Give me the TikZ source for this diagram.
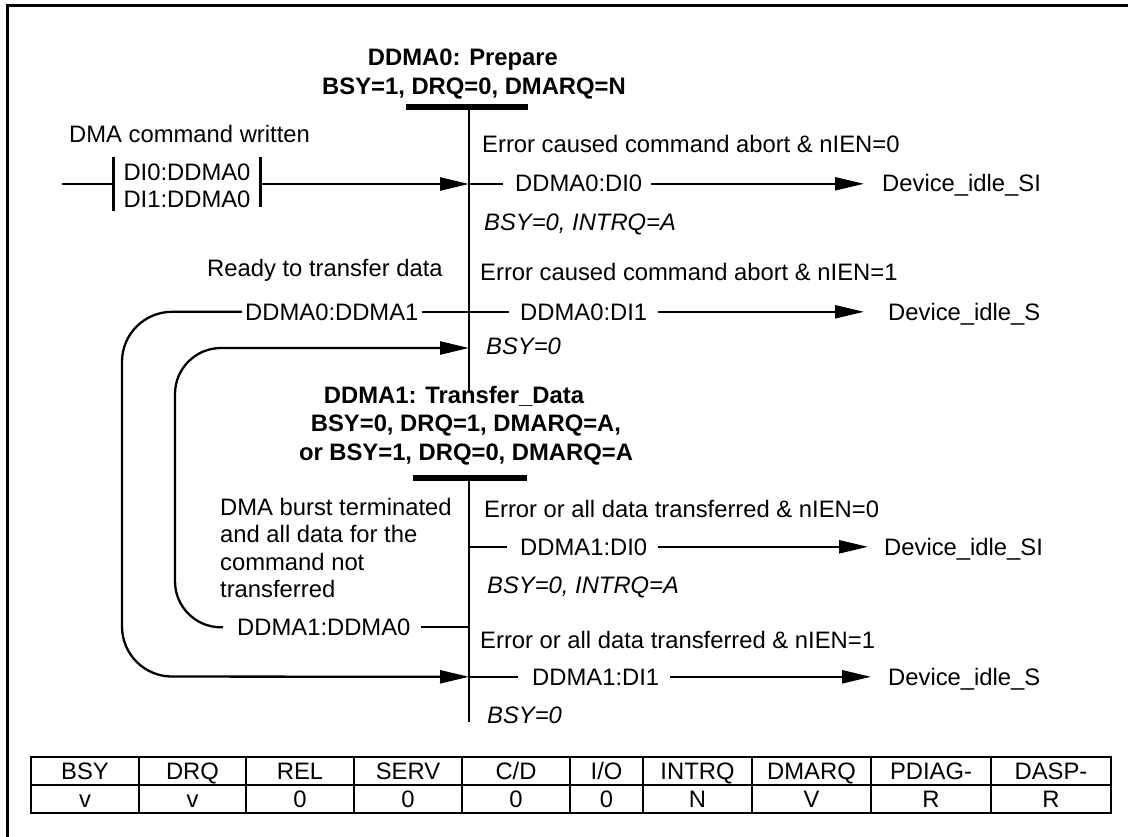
\documentclass[tikz,border=0pt]{standalone}
\usepackage{fontspec}
\setmainfont{Liberation Sans}
\usetikzlibrary{arrows.meta,calc}
\begin{document}
\begin{tikzpicture}[x=1pt,y=-1pt,
  txt/.style={inner sep=0pt, font=\fontsize{23.8}{27.5}\selectfont, anchor=base west},
  ital/.style={txt, font=\fontsize{23.8}{27.5}\selectfont\itshape},
  ttl/.style={inner sep=0pt, font=\fontsize{23.8}{28.5}\selectfont\bfseries, align=center, anchor=north},
  ln/.style={line width=2.3pt},
  arr/.style={line width=2.3pt, -{Triangle[length=29pt,width=13pt]}},
  sbar/.style={line width=6.5pt},
  vline/.style={line width=2.8pt},
  cell/.style={draw, line width=2.5pt, inner sep=0pt, minimum height=28pt, text height=17pt, text depth=0pt, font=\fontsize{23.8}{27.5}\selectfont},
  frame/.style={line width=3pt}]
\useasboundingbox (0,0) rectangle (1128,837);
\draw[frame] (7,837) -- (7,6) -- (1128,6);

% state DDMA0
\node[ttl] (t0) at (474,49) {DDMA0: Prepare\hspace*{22pt}\\BSY=1, DRQ=0, DMARQ=N};
\coordinate (v0t) at (469,107);
\coordinate (v0b) at (469,391);
\draw[sbar] (406,107) -- (528,107);
\draw[vline] (v0t) -- (v0b);

% state DDMA1
\node[ttl] (t1) at (466,386) {DDMA1: Transfer\_Data\hspace*{24pt}\\BSY=0, DRQ=1, DMARQ=A,\\or BSY=1, DRQ=0, DMARQ=A};
\coordinate (v1t) at (469,478);
\coordinate (v1b) at (469,722);
\draw[sbar] (413,478) -- (527,478);
\draw[vline] (v1t) -- (v1b);

% entry
\node[txt] (dmacmd) at (69,143) {DMA command written};
\node[inner sep=0pt, minimum width=146pt, minimum height=54pt, align=left,
      font=\fontsize{23.8}{27.5}\selectfont] (di) at (187,186) {DI0:DDMA0\\DI1:DDMA0};
\draw[vline] ([yshift=2pt]di.north west) -- ([yshift=2pt]di.south west);
\draw[vline] ([yshift=2pt]di.north east) -- ([yshift=6pt]di.south east);
\coordinate (c1) at (62,184);
\draw[ln] (c1) -- (c1 -| di.west);
\draw[arr] (c1 -| di.east) -- (c1 -| v0t);

% DDMA0 transitions
\node[txt] (e1) at (482,153) {Error caused command abort \& nIEN=0};
\node[txt] (a0i0) at (515,192) {DDMA0:DI0};
\node[txt] (dev1) at (882,192) {Device\_idle\_SI};
\node[ital] (s1) at (484,231) {BSY=0, INTRQ=A};
\draw[ln] (c1 -| v0t) -- ($(c1 -| a0i0.west)+(-12,0)$);
\draw[arr] ($(a0i0.east)+(9,0)$) -- ($(a0i0.east -| dev1.west)+(-18,0)$);

\node[txt] (rdy) at (207,277) {Ready to transfer data};
\node[txt] (e2) at (480,280) {Error caused command abort \& nIEN=1};
\node[txt] (a01) at (245,320) {DDMA0:DDMA1};
\node[txt] (a0i1) at (520,320) {DDMA0:DI1};
\node[txt] (dev2) at (888,320) {Device\_idle\_S};
\node[ital] (s2) at (486,355) {BSY=0};
\draw[ln] ($(a01.east)+(3,0)$) -- ($(a01.east -| a0i1.west)+(-11,0)$);
\draw[arr] ($(a0i1.east)+(11,0)$) -- ($(a0i1.east -| dev2.west)+(-24,0)$);

% DDMA1 transitions
\node[txt, anchor=north west, align=left] (burst) at (220,498) {DMA burst terminated\\and all data for the\\command not\\transferred};
\node[txt] (e3) at (484,517) {Error or all data transferred \& nIEN=0};
\node[txt] (a1i0) at (520,555) {DDMA1:DI0};
\node[txt] (dev3) at (884,555) {Device\_idle\_SI};
\node[ital] (s3) at (487,593) {BSY=0, INTRQ=A};
\draw[ln] (a1i0 -| v1t) -- ($(a1i0.west)+(-13,0)$);
\draw[arr] ($(a1i0.east)+(11,0)$) -- ($(a1i0.east -| dev3.west)+(-16,0)$);

\node[txt] (a10) at (237,635.5) {DDMA1:DDMA0};
\draw[ln] ($(a10.east)+(10,0)$) -- (a10.east -| v1t);

\node[txt] (e4) at (480,648) {Error or all data transferred \& nIEN=1};
\node[txt] (a1i1) at (532,685) {DDMA1:DI1};
\node[txt] (dev4) at (888,685) {Device\_idle\_S};
\node[ital] (s4) at (487,723) {BSY=0};
\draw[ln] (a1i1 -| v1t) -- ($(a1i1.west)+(-14,0)$);
\draw[arr] ($(a1i1.east)+(11,0)$) -- ($(a1i1.east -| dev4.west)+(-17,0)$);

% loops
\draw[arr, rounded corners=50pt] ($(a01.west)+(-3,0)$) -| (122,676.5) -- (a1i1 -| v1t);
\draw[arr, rounded corners=46pt] ($(a10.west)+(-14,0)$) -| (175,348) -- (v0t |- 0,348);

% table
\node[cell, minimum width=108pt] (h1) at (85,771) {BSY};
\node[cell, minimum width=107pt] (h2) at (192.5,771) {DRQ};
\node[cell, minimum width=108pt] (h3) at (300,771) {REL};
\node[cell, minimum width=108pt] (h4) at (408,771) {SERV};
\node[cell, minimum width=108pt] (h5) at (516,771) {C/D};
\node[cell, minimum width=73pt] (h6) at (606.5,771) {I/O};
\node[cell, minimum width=109pt] (h7) at (697.5,771) {INTRQ};
\node[cell, minimum width=119pt] (h8) at (811.5,771) {DMARQ};
\node[cell, minimum width=120pt] (h9) at (931,771) {PDIAG-};
\node[cell, minimum width=120pt] (h10) at (1051,771) {DASP-};
\node[cell, minimum width=108pt] (d1) at (85,799) {v};
\node[cell, minimum width=107pt] (d2) at (192.5,799) {v};
\node[cell, minimum width=108pt] (d3) at (300,799) {0};
\node[cell, minimum width=108pt] (d4) at (408,799) {0};
\node[cell, minimum width=108pt] (d5) at (516,799) {0};
\node[cell, minimum width=73pt] (d6) at (606.5,799) {0};
\node[cell, minimum width=109pt] (d7) at (697.5,799) {N};
\node[cell, minimum width=119pt] (d8) at (811.5,799) {V};
\node[cell, minimum width=120pt] (d9) at (931,799) {R};
\node[cell, minimum width=120pt] (d10) at (1051,799) {R};
\end{tikzpicture}
\end{document}
